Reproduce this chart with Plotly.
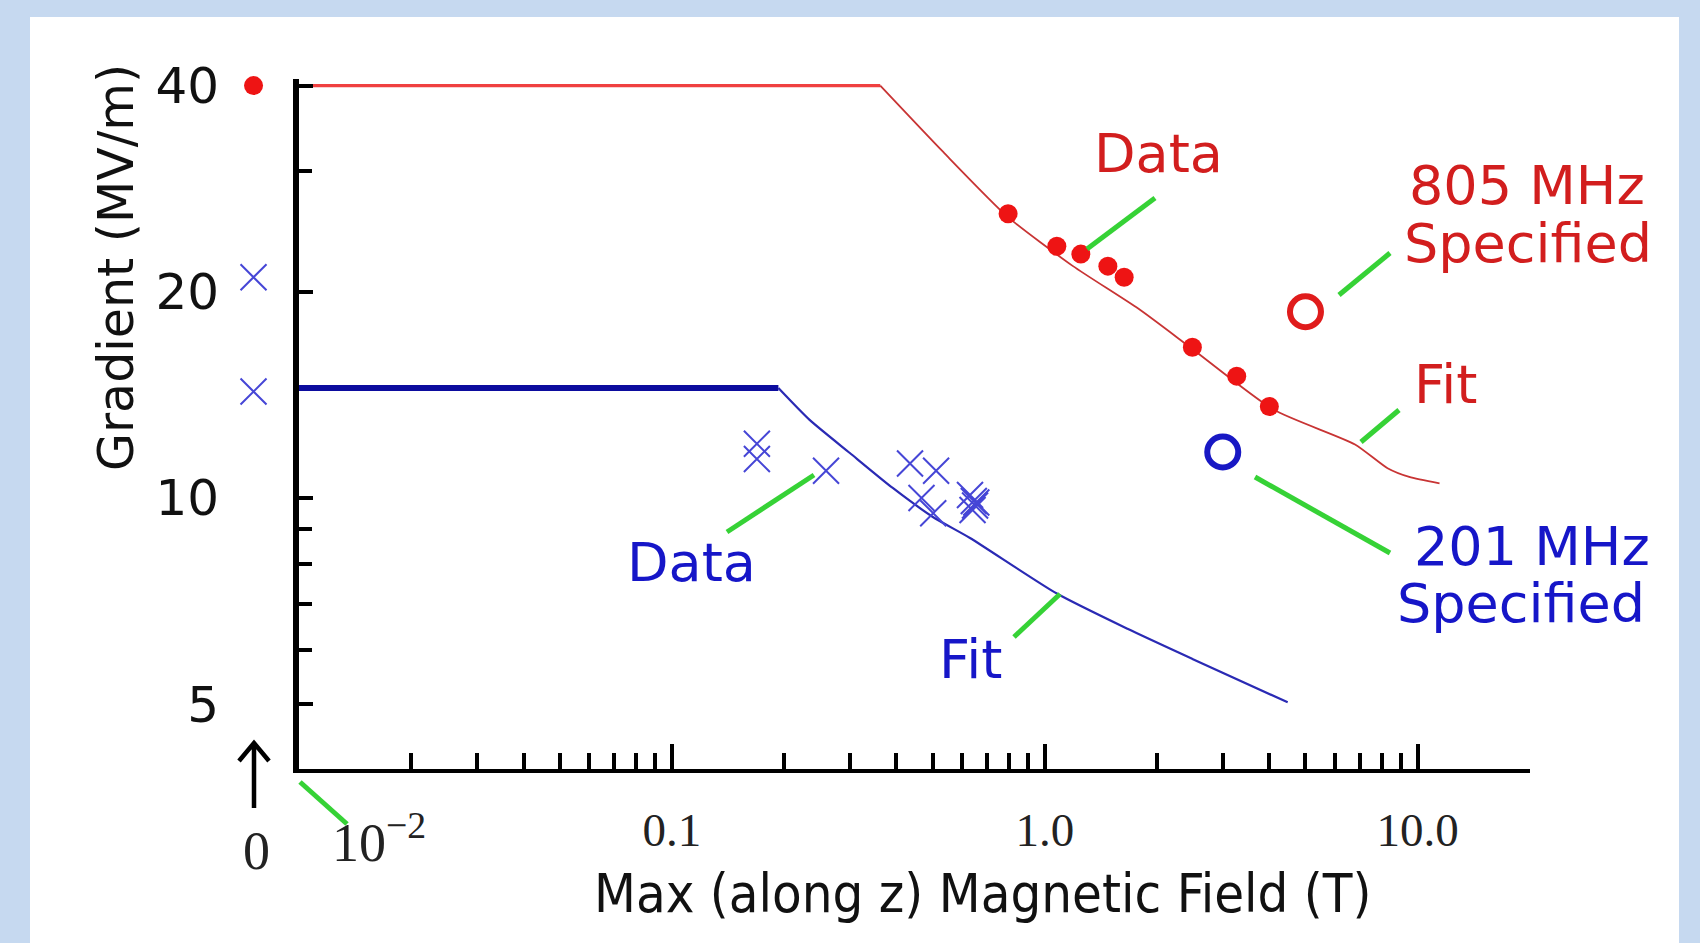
import plotly.graph_objects as go

# ---------------- data ----------------
# B = 0 points (drawn on a separate small "0" axis left of the log axis)
red_b0_y = [40.0]
blue_b0_y = [21.0, 14.3]

# 805 MHz data (filled red dots)
red_data_x = [0.797, 1.077, 1.249, 1.476, 1.632, 2.487, 3.27, 4.0]
red_data_y = [26.0, 23.3, 22.7, 21.8, 21.0, 16.6, 15.06, 13.6]

# 201 MHz data (blue crosses)
blue_data_x = [0.169, 0.169, 0.259, 0.435, 0.511, 0.467, 0.502, 0.63, 0.645, 0.65, 0.64, 0.655]
blue_data_y = [12.0, 11.4, 10.96, 11.23, 10.96, 10.0, 9.50, 10.1, 9.9, 9.75, 9.6, 9.85]

# fits
red_flat_x = [0.01, 0.362]
red_flat_y = [40.0, 40.0]
red_fit_x = [0.362, 0.534, 0.797, 1.19, 1.78, 2.487, 4.11, 6.79, 8.30, 9.49, 11.44]
red_fit_y = [40.0, 32.0, 25.7, 21.8, 18.9, 16.5, 13.45, 11.97, 11.05, 10.73, 10.50]

blue_flat_x = [0.01, 0.193]
blue_flat_y = [14.47, 14.47]
blue_fit_x = [0.193, 0.234, 0.300, 0.391, 0.501, 0.63, 1.077, 1.666, 2.487, 4.48]
blue_fit_y = [14.47, 13.0, 11.63, 10.34, 9.38, 8.74, 7.25, 6.44, 5.82, 5.03]

# specified operating points
red_spec_x = [5.0]
red_spec_y = [18.7]
blue_spec_x = [3.0]
blue_spec_y = [11.67]

# axis ticks
x_major = [0.1, 1, 10]
x_major_text = ["0.1", "1.0", "10.0"]
x_minor = [0.02, 0.03, 0.04, 0.05, 0.06, 0.07, 0.08, 0.09,
           0.2, 0.3, 0.4, 0.5, 0.6, 0.7, 0.8, 0.9,
           2, 3, 4, 5, 6, 7, 8, 9, 20]
y_major = [5, 10, 20, 40]
y_major_text = ["5", "10", "20", "40"]
y_minor = [6, 7, 8, 9, 30]

# ---------------- layout helpers ----------------
W, H = 1700, 943
L, R_EDGE, T, B_EDGE = 230, 1530, 79, 769
PW, PH = R_EDGE - L, B_EDGE - T


def px(x):
    return (x - L) / PW


def py(y):
    return (B_EDGE - y) / PH


RED = "#e01c1c"
RED_TXT = "#d21e1e"
BLUE_TXT = "#1616c8"
CROSS = "#4646d6"
GREEN = "#36d236"
SANS = "DejaVu Sans, Verdana, sans-serif"
COND = "DejaVu Sans Condensed, Liberation Sans Narrow, DejaVu Sans, sans-serif"
SERIF = "Liberation Serif, DejaVu Serif, serif"

fig = go.Figure()

# fit lines
fig.add_trace(go.Scatter(x=red_flat_x, y=red_flat_y, mode="lines",
                         line=dict(color="#f04040", width=3.2), cliponaxis=False))
fig.add_trace(go.Scatter(x=red_fit_x, y=red_fit_y, mode="lines",
                         line=dict(color="#c83434", width=1.8, shape="spline", smoothing=0.6),
                         cliponaxis=False))
fig.add_trace(go.Scatter(x=blue_flat_x, y=blue_flat_y, mode="lines",
                         line=dict(color="#0c0c9e", width=6), cliponaxis=False))
fig.add_trace(go.Scatter(x=blue_fit_x, y=blue_fit_y, mode="lines",
                         line=dict(color="#2a2ab4", width=2.2, shape="spline", smoothing=0.6),
                         cliponaxis=False))

# data
fig.add_trace(go.Scatter(x=red_data_x, y=red_data_y, mode="markers",
                         marker=dict(symbol="circle", size=19, color="#ee1414"),
                         cliponaxis=False))
fig.add_trace(go.Scatter(x=blue_data_x, y=blue_data_y, mode="markers",
                         marker=dict(symbol="x-thin-open", size=26, color=CROSS,
                                     line=dict(color=CROSS, width=2)),
                         cliponaxis=False))

# specified
fig.add_trace(go.Scatter(x=red_spec_x, y=red_spec_y, mode="markers",
                         marker=dict(symbol="circle-open", size=31, color=RED,
                                     line=dict(color=RED, width=6)),
                         cliponaxis=False))
fig.add_trace(go.Scatter(x=blue_spec_x, y=blue_spec_y, mode="markers",
                         marker=dict(symbol="circle-open", size=31, color="#1818c4",
                                     line=dict(color="#1818c4", width=6)),
                         cliponaxis=False))

# B = 0 points on separate "0" axis
fig.add_trace(go.Scatter(x=[0] * len(red_b0_y), y=red_b0_y, xaxis="x2", yaxis="y",
                         mode="markers", marker=dict(symbol="circle", size=19, color="#ee1414"),
                         cliponaxis=False))
fig.add_trace(go.Scatter(x=[0] * len(blue_b0_y), y=blue_b0_y, xaxis="x2", yaxis="y",
                         mode="markers",
                         marker=dict(symbol="x-thin-open", size=26, color=CROSS,
                                     line=dict(color=CROSS, width=2)),
                         cliponaxis=False))

x_dom0 = (299 - L) / PW

fig.update_layout(
    width=W, height=H,
    margin=dict(l=L, r=W - R_EDGE, t=T, b=H - B_EDGE, pad=0),
    paper_bgcolor="#c6d9f0",
    plot_bgcolor="white",
    showlegend=False,
    xaxis=dict(
        type="log", range=[-2, 1.30103], domain=[x_dom0, 1], anchor="y",
        showgrid=False, zeroline=False,
        showline=True, linecolor="black", linewidth=4,
        tickmode="array", tickvals=x_major, ticktext=x_major_text,
        ticks="inside", ticklen=25, tickwidth=4, tickcolor="black",
        ticklabelstandoff=17,
        tickfont=dict(family=SERIF, size=47, color="#222222"),
        minor=dict(tickmode="array", tickvals=x_minor, ticks="inside",
                   ticklen=16, tickwidth=4, tickcolor="black", showgrid=False),
    ),
    xaxis2=dict(domain=[0, 0.0362], range=[-1, 1], anchor="y", visible=False,
                showgrid=False, zeroline=False),
    yaxis=dict(
        type="log", range=[0.6042, 1.6117], domain=[0, 1], anchor="x",
        showgrid=False, zeroline=False,
        showline=True, linecolor="black", linewidth=6,
        tickmode="array", tickvals=y_major, ticktext=y_major_text,
        ticks="inside", ticklen=14, tickwidth=4, tickcolor="black",
        ticklabelstandoff=64,
        tickfont=dict(family=SANS, size=50, color="#111111"),
        minor=dict(tickmode="array", tickvals=y_minor, ticks="inside",
                   ticklen=13, tickwidth=4, tickcolor="black", showgrid=False),
    ),
)

# white panel behind the chart
fig.add_shape(type="rect", xref="paper", yref="paper",
              x0=px(30), x1=px(1679), y0=py(943), y1=py(17),
              fillcolor="white", line=dict(width=0), layer="below")

# green pointer lines
green_segments = [
    ((1155, 198), (1087, 249)),   # red Data
    ((1390, 253), (1339, 295)),   # 805 specified
    ((1399, 410), (1361, 442)),   # red Fit
    ((1255, 477), (1390, 553)),   # 201 specified
    ((727, 532), (814, 475)),     # blue Data
    ((1014, 637), (1060, 594)),   # blue Fit
    ((300, 782), (347, 824)),     # 10^-2
]
for (a, b) in green_segments:
    fig.add_shape(type="line", xref="paper", yref="paper",
                  x0=px(a[0]), y0=py(a[1]), x1=px(b[0]), y1=py(b[1]),
                  line=dict(color=GREEN, width=5))

# arrow above "0"
ax_x = 254
fig.add_shape(type="path", xref="paper", yref="paper",
              path=(f"M {px(ax_x)},{py(808)} L {px(ax_x)},{py(744)} "
                    f"M {px(ax_x - 15)},{py(761)} L {px(ax_x)},{py(743)} L {px(ax_x + 15)},{py(761)}"),
              line=dict(color="black", width=4.5))


def label(text, x, y, color, size=54, family=SANS, xanchor="center", angle=0):
    fig.add_annotation(text=text, x=px(x), y=py(y), xref="paper", yref="paper",
                       showarrow=False, xanchor=xanchor, yanchor="middle",
                       textangle=angle, font=dict(family=family, size=size, color=color))


label("Data", 1158, 153, RED_TXT)
label("805 MHz", 1527, 185, RED_TXT)
label("Specified", 1528, 243, RED_TXT)
label("Fit", 1445, 384, RED_TXT)
label("201 MHz", 1532, 546, BLUE_TXT)
label("Specified", 1521, 603, BLUE_TXT)
label("Data", 691, 562, BLUE_TXT)
label("Fit", 970, 659, BLUE_TXT)

label("0", 256, 851, "#222222", size=54, family=SERIF)
label("10<sup>−2</sup>", 330, 838, "#222222", size=54, family=SERIF, xanchor="left")

label("Gradient (MV/m)", 116, 268, "#111111", size=49, angle=-90)
label("Max (along z) Magnetic Field (T)", 982, 893, "#111111", size=54, family=COND)

# remove the default page margin so the figure sits at the window's top-left corner
fig.write_html("out.html",
               config={"displayModeBar": False},
               post_script="document.body.style.margin='0px';document.body.style.padding='0px';")
